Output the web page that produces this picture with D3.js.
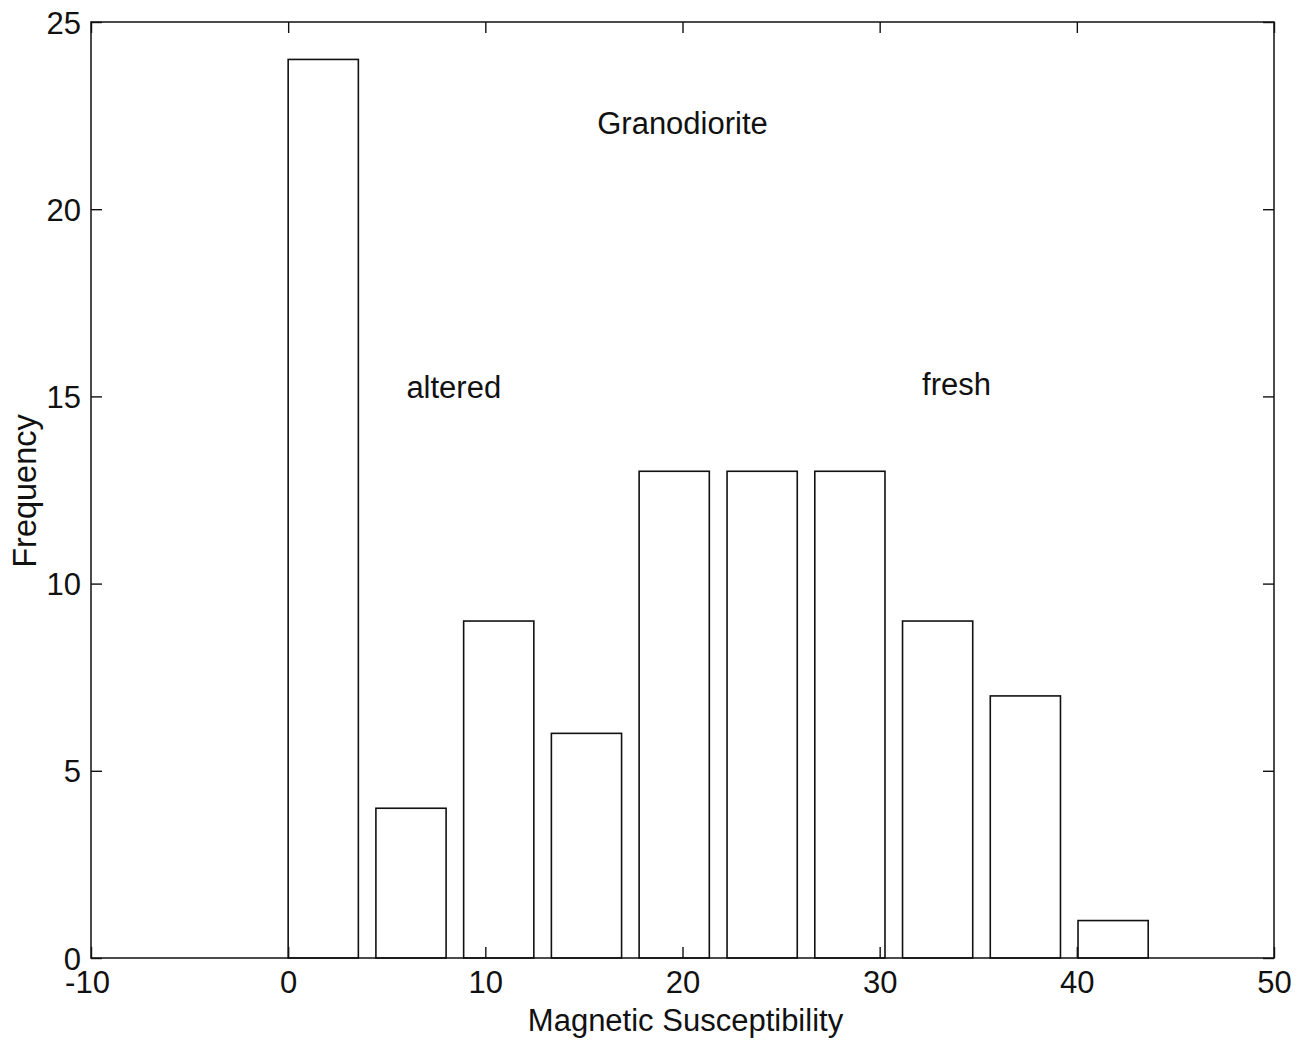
<!DOCTYPE html>
<html>
<head>
<meta charset="utf-8">
<script src="https://cdn.jsdelivr.net/npm/d3@7"></script>
<style>
  html, body { margin: 0; padding: 0; background: #fff; }
  svg { display: block; }
  text { font-family: "Liberation Sans", Arial, Helvetica, sans-serif; fill: #111; }
</style>
</head>
<body>
<svg id="chart" width="1314" height="1044"></svg>
<script>
// Histogram of magnetic susceptibility readings for the granodiorite samples
const binCenters = [1.78, 6.23, 10.68, 15.13, 19.58, 24.04, 28.49, 32.94, 37.39, 41.84];
const counts     = [24, 4, 9, 6, 13, 13, 13, 9, 7, 1];
const xTicks     = [-10, 0, 10, 20, 30, 40, 50];
const yTicks     = [0, 5, 10, 15, 20, 25];
const notes      = [
  { text: "Granodiorite", x: 20.0, y: 22.0 },
  { text: "altered",      x: 8.4,  y: 14.95 },
  { text: "fresh",        x: 33.9, y: 15.05 }
];

const bins = binCenters.map((c, i) => ({ center: c, count: counts[i] }));

const svg = d3.select("#chart");
const plotL = 91, plotR = 1274, plotT = 22, plotB = 958;
const fontSize = 31;
const tickLen = 11;
const ink = "#111";

const x = d3.scaleLinear().domain([-10, 50]).range([plotL, plotR]);
const y = d3.scaleLinear().domain([0, 25]).range([plotB, plotT]);

const spacing = binCenters[1] - binCenters[0];
const barW = x(0.8 * spacing) - x(0);

// bars
svg.append("g")
  .selectAll("rect")
  .data(bins)
  .join("rect")
  .attr("x", d => x(d.center) - barW / 2)
  .attr("y", d => y(d.count))
  .attr("width", barW)
  .attr("height", d => y(0) - y(d.count))
  .attr("fill", "none")
  .attr("stroke", ink)
  .attr("stroke-width", 1.6);

// axes with inward ticks on all four sides
function styleAxis(g) {
  g.select(".domain").remove();
  g.selectAll(".tick line").attr("stroke", ink).attr("stroke-width", 1.4);
}
const plain = d => String(d);   // hyphen-minus, as on the original plot

const xAxis = svg.append("g")
  .attr("transform", `translate(0,${plotB})`)
  .call(d3.axisBottom(x).tickValues(xTicks).tickSizeInner(-tickLen).tickSizeOuter(0).tickPadding(0).tickFormat(plain))
  .call(styleAxis);
xAxis.selectAll(".tick text")
  .attr("y", 35)
  .attr("dy", 0)
  .attr("font-size", fontSize)
  .attr("fill", ink);
xAxis.selectAll(".tick text").filter(d => d < 0).attr("dx", -4);

const yAxis = svg.append("g")
  .attr("transform", `translate(${plotL},0)`)
  .call(d3.axisLeft(y).tickValues(yTicks).tickSizeInner(-tickLen).tickSizeOuter(0).tickPadding(0).tickFormat(plain))
  .call(styleAxis);
yAxis.selectAll(".tick text")
  .attr("x", -10)
  .attr("dy", "0.36em")
  .attr("font-size", fontSize)
  .attr("fill", ink);

svg.append("g")
  .attr("transform", `translate(0,${plotT})`)
  .call(d3.axisTop(x).tickValues(xTicks).tickSizeInner(-tickLen).tickSizeOuter(0).tickFormat(""))
  .call(styleAxis);

svg.append("g")
  .attr("transform", `translate(${plotR},0)`)
  .call(d3.axisRight(y).tickValues(yTicks).tickSizeInner(-tickLen).tickSizeOuter(0).tickFormat(""))
  .call(styleAxis);

// frame
svg.append("rect")
  .attr("x", plotL).attr("y", plotT)
  .attr("width", plotR - plotL).attr("height", plotB - plotT)
  .attr("fill", "none")
  .attr("stroke", ink)
  .attr("stroke-width", 1.5);

// annotations inside the plot
svg.append("g")
  .selectAll("text")
  .data(notes)
  .join("text")
  .attr("x", d => x(d.x))
  .attr("y", d => y(d.y))
  .attr("text-anchor", "middle")
  .attr("font-size", fontSize)
  .text(d => d.text);

// axis titles
svg.append("text")
  .attr("x", (plotL + plotR) / 2 + 3)
  .attr("y", 1031)
  .attr("text-anchor", "middle")
  .attr("font-size", fontSize)
  .text("Magnetic Susceptibility");

svg.append("text")
  .attr("transform", `translate(36,${(plotT + plotB) / 2 + 1}) rotate(-90)`)
  .attr("text-anchor", "middle")
  .attr("font-size", 32.5)
  .text("Frequency");
</script>
</body>
</html>
